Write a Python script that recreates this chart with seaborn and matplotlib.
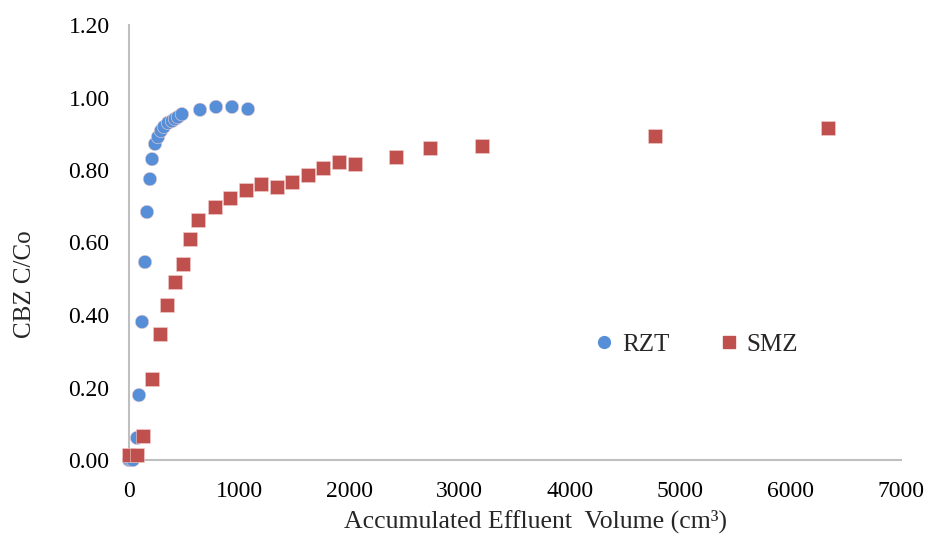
import numpy as np
import pandas as pd
import matplotlib
matplotlib.use("Agg")
import matplotlib.pyplot as plt
from matplotlib.lines import Line2D
import seaborn as sns

### Data
rzt_volume = [0, 18, 36, 73, 91, 118, 145, 163, 190, 209, 236, 263, 290, 317,
              354, 390, 417, 444, 480, 644, 789, 934, 1079]
rzt_ratio = [0.0, 0.0, 0.0, 0.061, 0.179, 0.381, 0.546, 0.684, 0.775, 0.830,
             0.872, 0.891, 0.908, 0.919, 0.930, 0.935, 0.941, 0.946, 0.954,
             0.966, 0.974, 0.974, 0.968]

smz_volume = [0, 73, 127, 209, 281, 345, 417, 490, 553, 626, 780, 916, 1061,
              1197, 1342, 1478, 1623, 1759, 1904, 2049, 2421, 2729, 3200,
              4769, 6337]
smz_ratio = [0.014, 0.014, 0.066, 0.223, 0.348, 0.428, 0.491, 0.541, 0.610,
             0.662, 0.698, 0.723, 0.745, 0.761, 0.753, 0.767, 0.786, 0.806,
             0.822, 0.817, 0.836, 0.861, 0.866, 0.894, 0.916]

series = ["RZT", "SMZ"]
colors = {"RZT": "#568FD8", "SMZ": "#C0504D"}
markers = {"RZT": "o", "SMZ": "s"}

df = pd.concat([
    pd.DataFrame({"volume": rzt_volume, "ratio": rzt_ratio, "adsorbent": "RZT"}),
    pd.DataFrame({"volume": smz_volume, "ratio": smz_ratio, "adsorbent": "SMZ"}),
], ignore_index=True)

sns.set_style("white")
plt.rcParams['font.family'] = ['Liberation Serif', 'DejaVu Serif']

fig = plt.figure(figsize=(9.27, 5.34), dpi=100)
ax = fig.add_axes([129/927, 1 - 460/534, 772/927, 435/534])

sns.scatterplot(data=df, x="volume", y="ratio", hue="adsorbent", style="adsorbent",
                hue_order=series, style_order=series, palette=colors, markers=markers,
                s=95, edgecolor="#F2D0CF", linewidth=0.4, ax=ax, clip_on=False,
                zorder=3, legend=False)

ax.set_xlim(0, 7000)
ax.set_ylim(0, 1.2)
ax.set_xticks(np.arange(0, 7001, 1000))
ax.set_yticks(np.arange(0, 1.21, 0.2))
ax.yaxis.set_major_formatter(matplotlib.ticker.FormatStrFormatter('%.2f'))

for side in ["top", "right"]:
    ax.spines[side].set_visible(False)
for side in ["left", "bottom"]:
    ax.spines[side].set_color("#BFBFBF")
    ax.spines[side].set_linewidth(1.5)
ax.tick_params(axis="both", which="major", direction="out", length=7, width=1.5,
               color="#BFBFBF", labelsize=17, labelcolor="black")
ax.tick_params(axis="x", pad=8)
ax.tick_params(axis="y", pad=7)

ax.set_xlabel("Accumulated Effluent  Volume (cm³)", fontsize=18.5)
ax.set_ylabel("CBZ C/Co", fontsize=18)
# Excel puts the titles a bit off-centre
ax.xaxis.set_label_coords(0.526, -0.115)
ax.yaxis.set_label_coords(-0.121, 0.405)

# legend with marker-only handles
handles = [Line2D([], [], linestyle="none", marker=markers[k], color=colors[k],
                  markersize=8.5) for k in series]
ax.legend(handles, series, ncol=2, frameon=False, fontsize=18,
          loc="center", bbox_to_anchor=(0.735, 0.266), handlelength=0.8,
          handletextpad=0.3, columnspacing=2.0)

fig.savefig("out.png", dpi=100)
